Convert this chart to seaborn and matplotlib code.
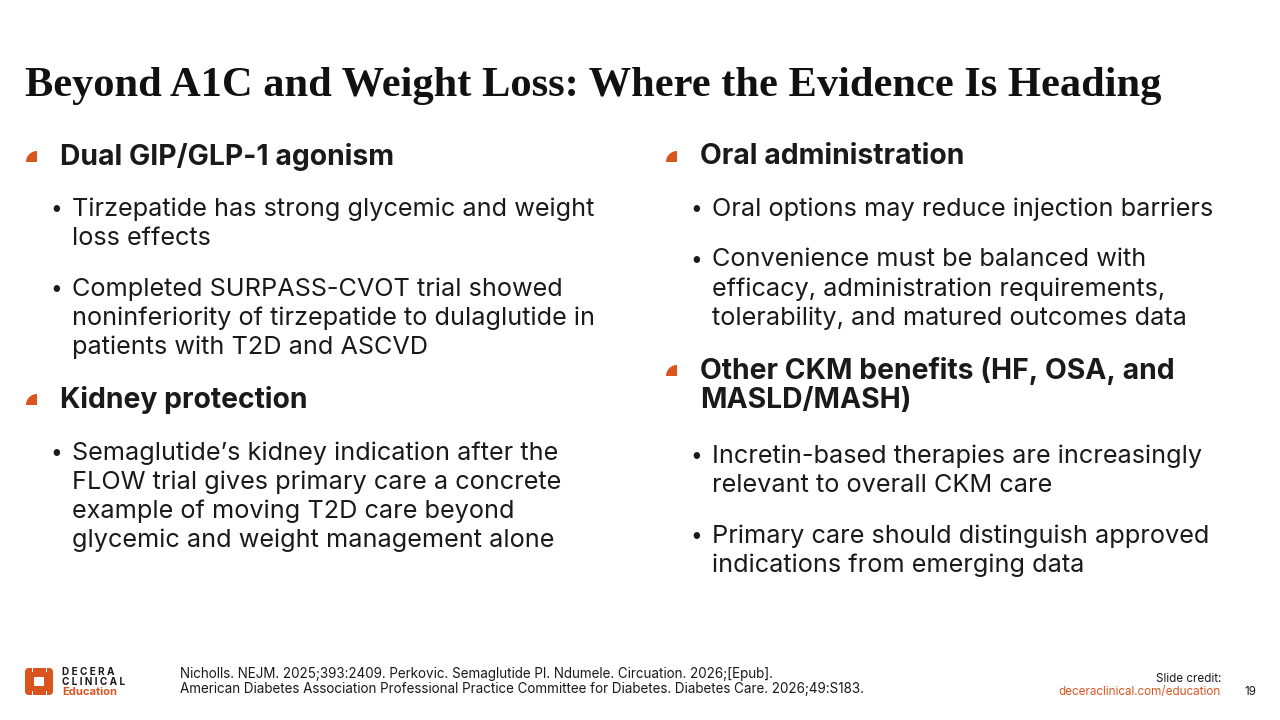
import matplotlib.pyplot as plt
import matplotlib.patches as mpatches
import seaborn as sns

## slide content ##
title = "Beyond A1C and Weight Loss: Where the Evidence Is Heading"

left_items = [
    ("head", ["Dual GIP/GLP-1 agonism"]),
    ("bullet", ["Tirzepatide has strong glycemic and weight", "loss effects"]),
    ("bullet", ["Completed SURPASS-CVOT trial showed",
                "noninferiority of tirzepatide to dulaglutide in",
                "patients with T2D and ASCVD"]),
    ("head", ["Kidney protection"]),
    ("bullet", ["Semaglutide\u2019s kidney indication after the",
                "FLOW trial gives primary care a concrete",
                "example of moving T2D care beyond",
                "glycemic and weight management alone"]),
]
left_y = [157, 209, 289, 400, 453]

right_items = [
    ("head", ["Oral administration"]),
    ("bullet", ["Oral options may reduce injection barriers"]),
    ("bullet", ["Convenience must be balanced with",
                "efficacy, administration requirements,",
                "tolerability, and matured outcomes data"]),
    ("head", ["Other CKM benefits (HF, OSA, and", "MASLD/MASH)"]),
    ("bullet", ["Incretin-based therapies are increasingly",
                "relevant to overall CKM care"]),
    ("bullet", ["Primary care should distinguish approved",
                "indications from emerging data"]),
]
right_y = [157, 209, 260, 371, 456, 536]

refs = ["Nicholls. NEJM. 2025;393:2409. Perkovic. Semaglutide PI. Ndumele. Circuation. 2026;[Epub].",
        "American Diabetes Association Professional Practice Committee for Diabetes. Diabetes Care. 2026;49:S183."]

orange = "#DA5420"
dark = "#1a1a1a"
line_h = 29.2
head_h = 30

sns.set_theme(style="white")
plt.rcParams['font.family'] = ['Inter', 'DejaVu Sans']

fig = plt.figure(figsize=(12.8, 7.2), dpi=100)
ax = fig.add_axes([0, 0, 1, 1])
ax.set_xlim(0, 1280)
ax.set_ylim(720, 0)
ax.axis('off')

ax.text(25, 86, title, family='Liberation Serif', fontweight='bold', fontsize=30.6,
        color='#111111', va='center', ha='left')


def marker(x, y):
    # quarter circle bullet, centre at bottom right (y axis runs downward)
    w = mpatches.Wedge((x + 11, y + 5), 11, 180, 270, facecolor=orange, edgecolor='none')
    ax.add_patch(w)


def draw_column(items, ys, x_mark, x_head, x_dot, x_text):
    for (kind, lines), y0 in zip(items, ys):
        for i, line in enumerate(lines):
            if kind == "head":
                ax.text(x_head, y0 + i * head_h, line, fontsize=20.4, fontweight='bold',
                        color=dark, va='center', ha='left')
            else:
                ax.text(x_text, y0 + i * line_h, line, fontsize=18.2, color=dark,
                        va='center', ha='left')
        if kind == "head":
            marker(x_mark, y0)
        else:
            ax.text(x_dot, y0, "\u2022", fontsize=15, color=dark, va='center', ha='left')


draw_column(left_items, left_y, 26, 60, 50, 72)
draw_column(right_items, right_y, 666, 700, 690, 712)

# footer references
for i, r in enumerate(refs):
    ax.text(180, 674 + i * 14.5, r, fontsize=9.7, color=dark, va='center', ha='left')

# logo
ax.add_patch(mpatches.FancyBboxPatch((25, 668), 28, 27, boxstyle="round,pad=0,rounding_size=4",
                                     facecolor=orange, edgecolor='none'))
ax.add_patch(mpatches.Rectangle((34, 677), 10, 9, facecolor='white', edgecolor='none'))
for gx, gy, gw, gh in [(31.5, 668, 1, 4), (45.5, 668, 1, 4), (31.5, 691, 1, 4), (45.5, 691, 1, 4)]:
    ax.add_patch(mpatches.Rectangle((gx, gy), gw, gh, facecolor='white', edgecolor='none'))
ax.text(62, 672, "D E C E R A", fontsize=7.2, fontweight='bold', color=dark, va='center', ha='left')
ax.text(62, 682, "C L I N I C A L", fontsize=7.2, fontweight='bold', color=dark, va='center', ha='left')
ax.text(62, 692, "Education", fontsize=8, fontweight='bold', color=orange, va='center', ha='left')

ax.text(1221, 679, "Slide credit:", fontsize=8.4, color=dark, va='center', ha='right')
ax.text(1221, 692, "deceraclinical.com/education", fontsize=8.4, color=orange, va='center', ha='right')
ax.text(1256, 692, "19", fontsize=8.4, color=dark, va='center', ha='right')

fig.savefig("out.png", dpi=100, facecolor='white')
